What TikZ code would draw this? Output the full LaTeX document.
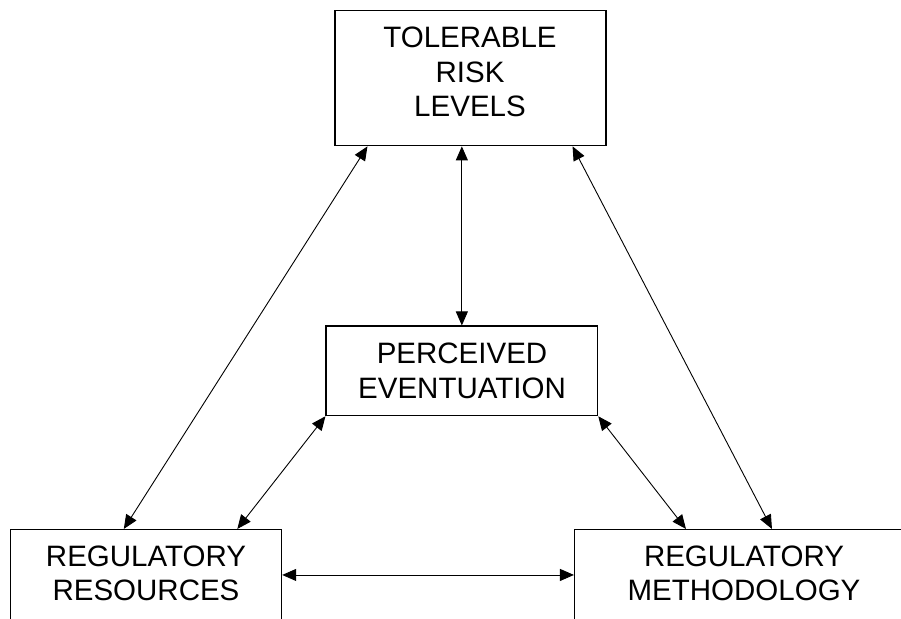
\documentclass[tikz,border=0pt]{standalone}
\usepackage{fontspec}
\setmainfont{Liberation Sans}
\usetikzlibrary{arrows.meta}
\begin{document}
\begin{tikzpicture}[x=1pt,y=-1pt,
  box/.style={draw, line width=1.1pt, inner sep=0pt},
  lbl/.style={align=center, inner sep=0pt, font=\fontsize{29.5}{34.5}\selectfont},
  link/.style={{Triangle[length=14pt,width=12pt]}-{Triangle[length=14pt,width=12pt]}, line width=0.9pt}]
\useasboundingbox (0,0) rectangle (901,618);
\clip (0,0) rectangle (901,618);
\node[box, minimum width=271pt, minimum height=135.2pt] (tol) at (470.5,78.2) {};
\node[lbl] (tolt) at (470,72) {TOLERABLE\\RISK\\LEVELS};
\node[box, minimum width=271.7pt, minimum height=89.7pt] (per) at (461.85,370.85) {};
\node[lbl] (pert) at (462,371) {PERCEIVED\\EVENTUATION};
\node[box, minimum width=271.3pt, minimum height=110pt] (res) at (146,584.5) {};
\node[lbl] (rest) at (146,573.5) {REGULATORY\\RESOURCES};
\node[box, minimum width=340pt, minimum height=110pt] (met) at (744.5,584.5) {};
\node[lbl] (mett) at (744,573.5) {REGULATORY\\METHODOLOGY};
\draw[link] (per.north) -- (per.north |- tol.south);
\draw[link] ([xshift=33pt]tol.south west) -- ([xshift=114pt]res.north west);
\draw[link] ([xshift=-34pt]tol.south east) -- ([xshift=198pt]met.north west);
\draw[link] (per.south west) -- ([xshift=227.5pt]res.north west);
\draw[link] (per.south east) -- ([xshift=112pt]met.north west);
\draw[link] ([yshift=-46pt]res.north east) -- ([yshift=-46pt]res.north east -| met.west);
\end{tikzpicture}
\end{document}
